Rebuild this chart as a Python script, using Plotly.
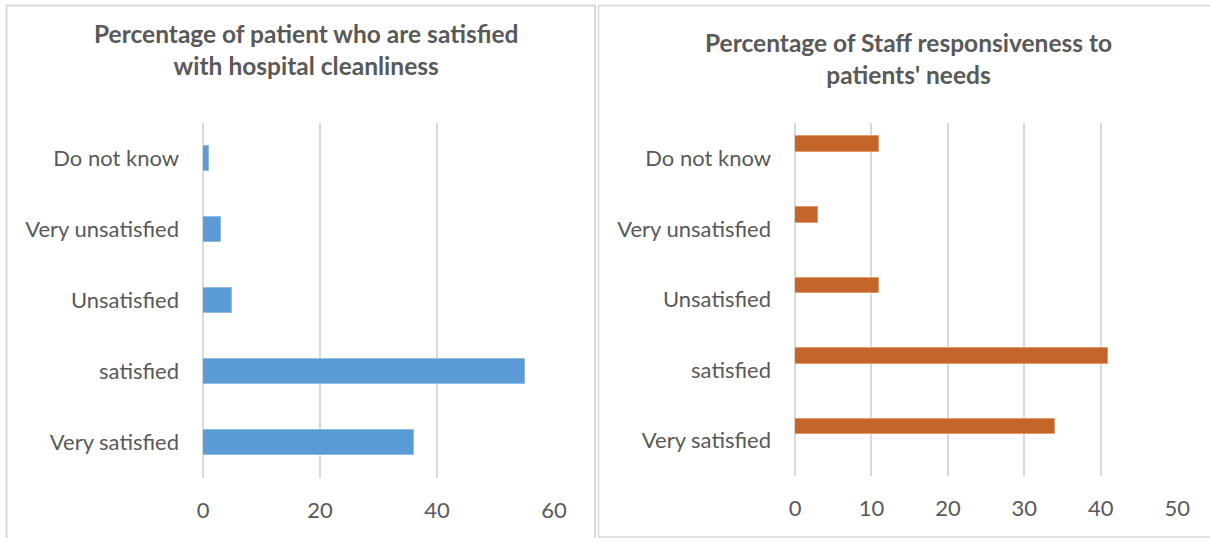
import plotly.graph_objects as go

# Categories listed bottom-to-top as they appear on the axis
categories = ["Very satisfied", "satisfied", "Unsatisfied", "Very unsatisfied", "Do not know"]
cleanliness_pct = [36, 55, 5, 3, 1]
responsiveness_pct = [34, 41, 11, 3, 11]

left_title = "Percentage of patient who are satisfied<br>with hospital cleanliness"
right_title = "Percentage of Staff responsiveness to<br>patients' needs"

W, H = 1210, 538
FONT = "Lato"
TEXT = "#595959"
GRID = "#d9d9d9"


def px(x):
    return x / W


def py(y):
    return 1 - y / H


fig = go.Figure()

fig.add_trace(go.Bar(
    y=categories, x=cleanliness_pct, orientation="h",
    width=0.35,
    marker=dict(color="#5b9bd5", line=dict(color="#8fbbe4", width=1)),
    xaxis="x", yaxis="y", showlegend=False, hoverinfo="x+y",
))

fig.add_trace(go.Bar(
    y=categories, x=responsiveness_pct, orientation="h",
    width=0.22, offset=0.09,
    marker=dict(color="#c4662a", line=dict(color="#e49a6a", width=1)),
    xaxis="x2", yaxis="y2", showlegend=False, hoverinfo="x+y",
))

common_x = dict(
    showgrid=True, gridcolor=GRID, gridwidth=1.5,
    zeroline=True, zerolinecolor=GRID, zerolinewidth=1.5,
    showline=False, ticks="", ticklabelstandoff=17,
    tickfont=dict(family=FONT, size=22, color=TEXT),
    automargin=False, fixedrange=True,
)
common_y = dict(
    type="category", categoryorder="array", categoryarray=categories,
    showgrid=False, zeroline=False, showline=False, ticks="",
    ticklabelstandoff=23,
    tickfont=dict(family=FONT, size=22, color=TEXT),
    automargin=False, fixedrange=True,
)

fig.update_layout(
    template="none",
    width=W, height=H,
    margin=dict(l=0, r=0, t=0, b=0, pad=0, autoexpand=False),
    paper_bgcolor="white", plot_bgcolor="white",
    font=dict(family=FONT, color=TEXT),
    xaxis=dict(domain=[px(203), px(554)], range=[0, 60], dtick=20, anchor="y", **common_x),
    yaxis=dict(domain=[py(478), py(123)], anchor="x", **common_y),
    xaxis2=dict(domain=[px(795), px(1177.3)], range=[0, 50], dtick=10, anchor="y2", **common_x),
    yaxis2=dict(domain=[py(476), py(123)], anchor="x2", **common_y),
    bargap=0,
)

# Chart-area frames around each panel
fig.add_shape(type="rect", xref="paper", yref="paper",
              x0=px(6.5), x1=px(595), y0=py(560), y1=py(5.5),
              line=dict(color=GRID, width=2), layer="below")
fig.add_shape(type="rect", xref="paper", yref="paper",
              x0=px(598.5), x1=px(1240), y0=py(537), y1=py(5.5),
              line=dict(color=GRID, width=1.5), layer="below")

fig.add_annotation(text=left_title, xref="paper", yref="paper",
                   x=px(306), y=py(50), xanchor="center", yanchor="middle",
                   showarrow=False, align="center",
                   font=dict(family=FONT, size=24.5, color=TEXT, weight="bold"))
fig.add_annotation(text=right_title, xref="paper", yref="paper",
                   x=px(908), y=py(59), xanchor="center", yanchor="middle",
                   showarrow=False, align="center",
                   font=dict(family=FONT, size=24.5, color=TEXT, weight="bold"))

fig.write_html("out.html")
